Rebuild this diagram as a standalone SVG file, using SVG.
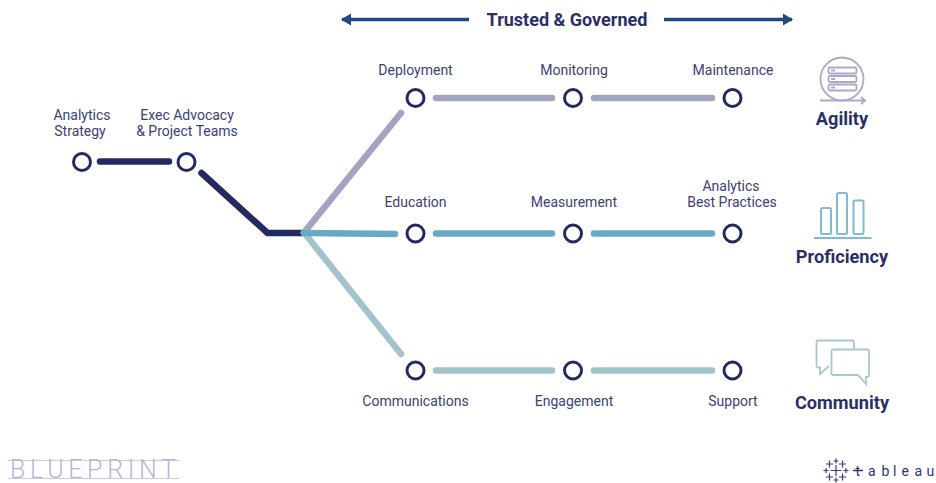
<svg xmlns="http://www.w3.org/2000/svg" width="936" height="483" viewBox="0 0 936 483">
<defs>
<marker id="ah" markerUnits="userSpaceOnUse" markerWidth="10" markerHeight="14" refX="9" refY="7" orient="auto-start-reverse"><path d="M0 1L10 7L0 13Z" fill="#234a80"/></marker>
</defs>
<style>
text{font-family:"Roboto","Open Sans",sans-serif;fill:#3c4174}
.l{font-size:14px;text-anchor:middle}
.h{font-size:18.200px;font-weight:700;text-anchor:middle;fill:#2a2f66}
.n{fill:#fff;stroke:#232a62;stroke-width:3}
.c{fill:none;stroke-width:6.500;stroke-linecap:round;stroke-linejoin:miter}
.d{stroke:#232a62}.p{stroke:#a3a3c2}.b{stroke:#66abc3}.g{stroke:#a3c3cb}
.ip{fill:none;stroke:#a9a9c9;stroke-width:1.800}
.ib{fill:none;stroke:#7dbcd1;stroke-width:2}
.ig{fill:none;stroke:#a8c8d0;stroke-width:1.800}
</style>
<g id="connectors">
<path d="M469 19.500H342" fill="none" stroke="#234a80" stroke-width="3.500" marker-end="url(#ah)"/>
<path d="M664 19.500H792" fill="none" stroke="#234a80" stroke-width="3.500" marker-end="url(#ah)"/>
<path class="c d" d="M100 161.500H169"/>
<path class="c d" d="M201.500 173L267.500 233H303"/>
<path class="c p" d="M304 232.500L401 113"/>
<path class="c g" d="M304 232.500L401 354"/>
<path class="c b" d="M304 233L395 234"/>
<path class="c p" d="M436 98H552M594 98H712"/>
<path class="c b" d="M436 233.500H552M594 233.500H712"/>
<path class="c g" d="M436 370.500H552M594 370.500H712"/>
</g>
<g id="n-analytics-strategy"><circle class="n" cx="82" cy="162" r="8.500"/><text class="l" x="82" y="120">Analytics</text><text class="l" x="80" y="136">Strategy</text></g>
<g id="n-exec-advocacy"><circle class="n" cx="186.500" cy="162" r="8.500"/><text class="l" x="187" y="120">Exec Advocacy</text><text class="l" x="187" y="136">&amp; Project Teams</text></g>
<g id="n-deployment"><circle class="n" cx="415.500" cy="98" r="8.500"/><text class="l" x="415.500" y="75">Deployment</text></g>
<g id="n-monitoring"><circle class="n" cx="573" cy="98" r="8.500"/><text class="l" x="574" y="75">Monitoring</text></g>
<g id="n-maintenance"><circle class="n" cx="732.500" cy="98" r="8.500"/><text class="l" x="733" y="75">Maintenance</text></g>
<g id="n-education"><circle class="n" cx="415.500" cy="233.500" r="8.500"/><text class="l" x="415.500" y="207">Education</text></g>
<g id="n-measurement"><circle class="n" cx="573" cy="233.500" r="8.500"/><text class="l" x="574" y="207">Measurement</text></g>
<g id="n-best-practices"><circle class="n" cx="732.500" cy="233.500" r="8.500"/><text class="l" x="731" y="191">Analytics</text><text class="l" x="732" y="207">Best Practices</text></g>
<g id="n-communications"><circle class="n" cx="415.500" cy="370.500" r="8.500"/><text class="l" x="415.500" y="406">Communications</text></g>
<g id="n-engagement"><circle class="n" cx="573" cy="370.500" r="8.500"/><text class="l" x="574" y="406">Engagement</text></g>
<g id="n-support"><circle class="n" cx="732.500" cy="370.500" r="8.500"/><text class="l" x="733" y="406">Support</text></g>
<g id="title"><text x="567" y="25.500" style="font-size:18px;font-weight:700;text-anchor:middle;fill:#2a2f66">Trusted &amp; Governed</text></g>
<g id="agility">
<circle class="ip" cx="842" cy="79" r="21.500"/>
<rect class="ip" x="828.500" y="67.500" width="28" height="6" rx="1.500"/>
<rect class="ip" x="828.500" y="76" width="28" height="6" rx="1.500"/>
<rect class="ip" x="828.500" y="84.500" width="28" height="6" rx="1.500"/>
<path class="ip" d="M831 70.500h4M831 79h4M831 87.500h4M820 100.500H865M861 97l4 3.500-4 3.500"/>
<text class="h" x="842" y="125">Agility</text>
</g>
<g id="proficiency">
<rect class="ib" x="821" y="208" width="10" height="26" rx="1.500"/>
<rect class="ib" x="837" y="193" width="10" height="41" rx="1.500"/>
<rect class="ib" x="853.500" y="200.500" width="10" height="33.500" rx="1.500"/>
<path class="ib" d="M814 238H871.500"/>
<text class="h" x="842" y="263">Proficiency</text>
</g>
<g id="community">
<path class="ig" d="M854 349V342Q854 340.500 852.500 340.500H818Q816.500 340.500 816.500 342V366Q816.500 367.500 818 367.500H820V374L829 366"/>
<path class="ig" d="M833 349.500H867Q869 349.500 869 351.500V375Q869 377 867 377H866V384L858 375H833Q831.500 375 831.500 373.500V351Q831.500 349.500 833 349.500Z"/>
<text class="h" x="842" y="409">Community</text>
</g>
<g id="blueprint">
<path d="M8 460.500H179M8 478.500H179" stroke="#c9cbe2" stroke-width="1" fill="none"/>
<text x="10" y="478" textLength="166" style="font-size:25px;font-weight:300;fill:#b4b7d8">BLUEPRINT</text>
</g>
<g id="tableau">
<path d="M836 465v11M830.500 470.500h11M829.500 460.500v7M826 464h7M842.500 460.500v7M839 464h7M829.500 473.500v7M826 477h7M842.500 473.500v7M839 477h7M836 458.500v5M833.500 461h5M836 477.500v5M833.500 480h5M826 468v5M823.500 470.500h5M846 468v5M843.500 470.500h5" stroke="#3d3f80" stroke-width="1.200" fill="none"/>
<path d="M853 470.500H863" stroke="#2f3170" stroke-width="1.500" fill="none"/>
<text y="476" x="855.500 868 881.500 893 901.500 914.500 926.500" style="font-size:14px;fill:#2f3170">tableau</text>
</g>
</svg>
